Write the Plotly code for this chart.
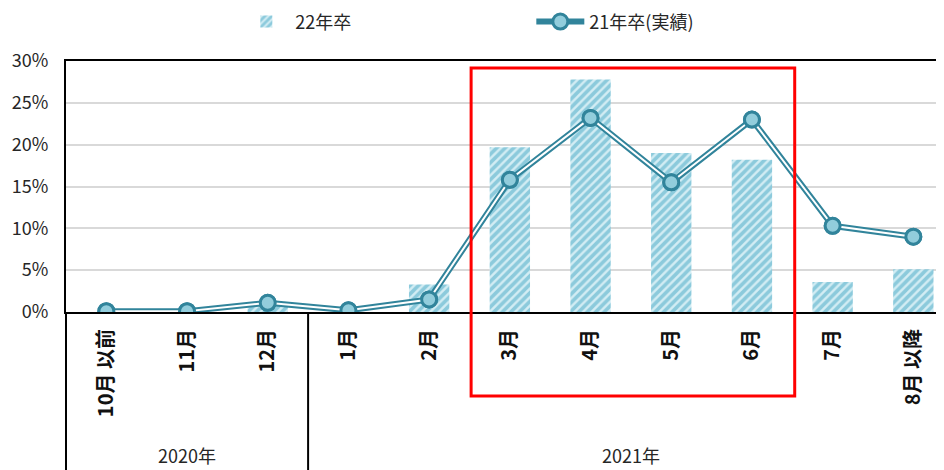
import plotly.graph_objects as go

categories = ["10月 以前", "11月", "12月", "1月", "2月", "3月", "4月", "5月", "6月", "7月", "8月 以降"]
grad22 = [0.0, 0.0, 0.9, 0.0, 3.3, 19.7, 27.8, 19.0, 18.2, 3.6, 5.1]
grad21 = [0.1, 0.1, 1.1, 0.2, 1.5, 15.8, 23.2, 15.5, 23.0, 10.3, 9.0]
year_labels = ["2020年", "2021年"]
y_ticks = [0, 5, 10, 15, 20, 25, 30]

xs = list(range(len(categories)))
teal = "#31849b"
light = "#92cddc"
font = "Noto Sans CJK JP"

fig = go.Figure()
fig.add_trace(go.Bar(
    x=xs, y=grad22, name="22年卒", width=0.5,
    marker=dict(color="#d3edf4", line=dict(width=0),
                pattern=dict(shape="/", fgcolor="#45a8c4", size=6, solidity=0.6)),
))
fig.add_trace(go.Scatter(
    x=xs, y=grad21, name="21年卒(実績)", mode="lines+markers",
    line=dict(color=teal, width=6),
    marker=dict(size=15, color=light, line=dict(color=teal, width=3)),
))
fig.add_trace(go.Scatter(
    x=xs, y=grad21, mode="lines", showlegend=False, hoverinfo="skip",
    line=dict(color="white", width=2),
))
fig.add_trace(go.Scatter(
    x=xs, y=grad21, mode="markers", showlegend=False,
    marker=dict(size=15, color=light, line=dict(color=teal, width=3)),
))

# page body has an 8px margin, so the figure is sized/offset accordingly
fig.update_layout(
    width=936, height=462,
    margin=dict(l=58, r=0, t=53, b=158, autoexpand=False),
    plot_bgcolor="white", paper_bgcolor="white",
    font=dict(family=font, size=16, color="#262626"),
    showlegend=True,
    legend=dict(orientation="h", xref="container", x=0.245, xanchor="left",
                yref="container", y=0.97, yanchor="middle",
                entrywidth=231, entrywidthmode="pixels", font=dict(size=18, color="#262626"),
                itemwidth=48),
    bargap=0.5,
)
fig.update_xaxes(
    range=[-0.5, 10.38], tickmode="array", tickvals=xs, ticktext=categories,
    tickangle=-90, tickfont=dict(size=20, color="#111111", weight=600),
    showline=True, linecolor="black", linewidth=2, mirror=True,
    showgrid=False, ticks="", ticklabelstandoff=7, automargin=False,
)
fig.update_yaxes(
    range=[0, 30], tickmode="array", tickvals=y_ticks, ticktext=[f"{v}%" for v in y_ticks],
    tickfont=dict(size=18, color="#262626"), ticklabelstandoff=12,
    showgrid=True, gridcolor="#d9d9d9", gridwidth=2,
    showline=True, linecolor="black", linewidth=2, zeroline=False, ticks="",
    automargin=False,
)

# group separators
fig.add_shape(type="line", xref="paper", yref="paper", x0=0, x1=0, y0=-0.64, y1=0,
              line=dict(color="black", width=2))
fig.add_shape(type="line", xref="x", yref="paper", x0=2.5, x1=2.5, y0=-0.64, y1=0,
              line=dict(color="black", width=2))
# highlight box
fig.add_shape(type="rect", xref="x", yref="paper", x0=4.52, x1=8.53, y0=-0.335, y1=0.972,
              line=dict(color="#ff0000", width=3), fillcolor="rgba(0,0,0,0)")

fig.add_annotation(x=1, y=-0.57, xref="x", yref="paper", text=year_labels[0], showarrow=False,
                   font=dict(size=18, color="#262626"), yanchor="middle")
fig.add_annotation(x=6.5, y=-0.57, xref="x", yref="paper", text=year_labels[1], showarrow=False,
                   font=dict(size=18, color="#262626"), yanchor="middle")

fig.write_html("out.html")
